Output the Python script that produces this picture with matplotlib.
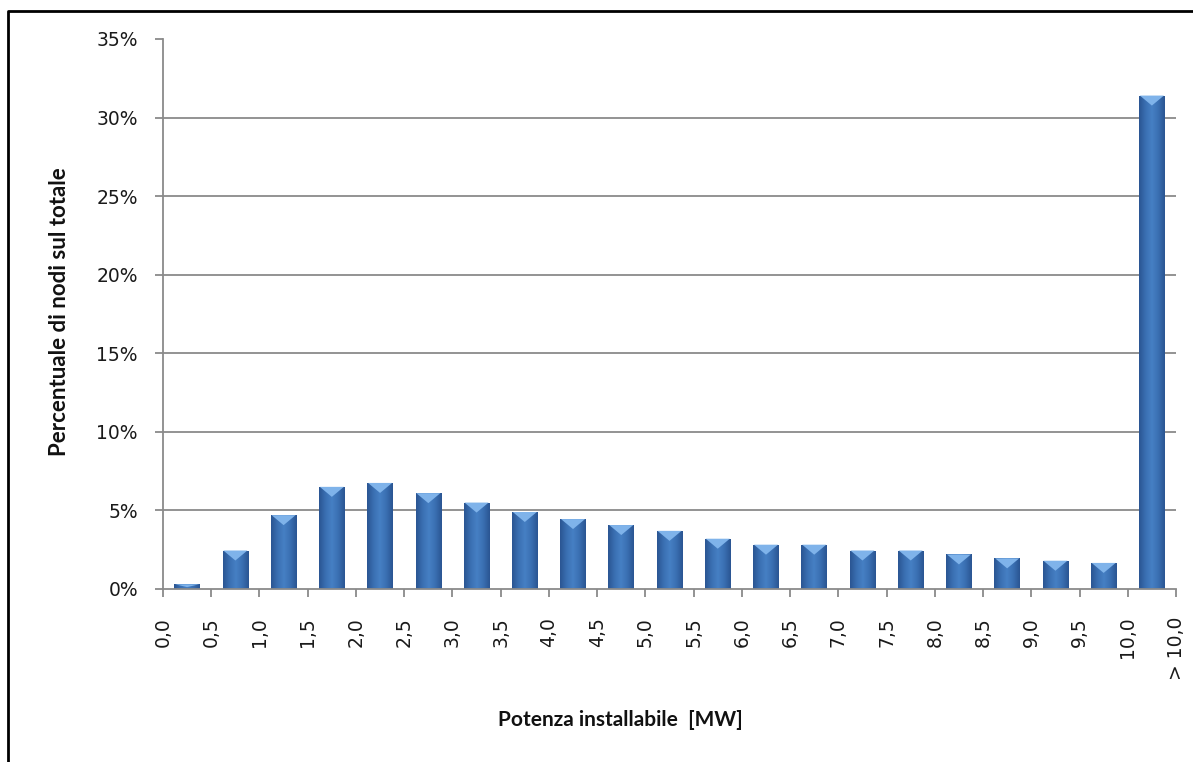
import matplotlib
matplotlib.use("Agg")
import matplotlib.pyplot as plt
import numpy as np
from matplotlib.colors import LinearSegmentedColormap
from matplotlib.lines import Line2D
from matplotlib.patches import Polygon
from matplotlib.ticker import FuncFormatter

# tick labels sit on the class boundaries, bars between them
tick_labels = ["0,0", "0,5", "1,0", "1,5", "2,0", "2,5", "3,0", "3,5", "4,0",
               "4,5", "5,0", "5,5", "6,0", "6,5", "7,0", "7,5", "8,0", "8,5",
               "9,0", "9,5", "10,0", "> 10,0"]
# percentage of nodes per class
share = [0.3, 2.45, 4.7, 6.5, 6.75, 6.1, 5.5, 4.9, 4.45, 4.07, 3.7, 3.2,
         2.82, 2.82, 2.45, 2.45, 2.2, 1.95, 1.8, 1.66, 31.4]
y_ticks = [0, 5, 10, 15, 20, 25, 30, 35]

W, H = 1193, 762
fig = plt.figure(figsize=(W / 100, H / 100), dpi=100)
ax = fig.add_axes([163 / W, 1 - 589 / H, (1176 - 163) / W, (589 - 39) / H])

x = np.arange(len(share)) + 0.5
bars = ax.bar(x, share, width=0.53, color="#3d72b5", edgecolor="none", zorder=2)

# horizontal shading of each bar + light bevel on top
cmap = LinearSegmentedColormap.from_list(
    "barshade", ["#2a5592", "#3a6fb2", "#4680c4", "#3a6fb2", "#2a5592"])
grad = np.linspace(0, 1, 64).reshape(1, -1)
px_per_unit = (589 - 39) / 35.0
for b in bars:
    x0, w, h = b.get_x(), b.get_width(), b.get_height()
    im = ax.imshow(grad, extent=[x0, x0 + w, 0, h], aspect="auto",
                   cmap=cmap, zorder=2.1, interpolation="bicubic")
    im.set_clip_path(b)
    d = min(10 / px_per_unit, h * 0.6)
    tri = Polygon([[x0 + 0.03 * w, h], [x0 + 0.97 * w, h],
                   [x0 + 0.5 * w, h - d]], closed=True,
                  facecolor="#7fb3ea", edgecolor="none", zorder=2.2)
    ax.add_patch(tri)

ax.set_xlim(0, len(share))
ax.set_ylim(0, 35)
ax.set_xticks(np.arange(len(tick_labels)))
ax.set_xticklabels(tick_labels, rotation=90, fontsize=13.5, color="#1a1a1a")
ax.set_yticks(y_ticks)
ax.yaxis.set_major_formatter(FuncFormatter(lambda v, p: f"{v:.0f}%"))
ax.tick_params(axis="y", labelsize=13.5, labelcolor="#1a1a1a", length=6,
               width=1.3, color="#8a8a8a", pad=12)
ax.tick_params(axis="x", length=6, width=1.3, color="#8a8a8a", pad=14)

ax.grid(axis="y", color="#8a8a8a", linewidth=1.3, zorder=0)
ax.set_axisbelow(True)
gl = ax.get_ygridlines()
gl[0].set_visible(False)
gl[-1].set_visible(False)

for s in ["top", "right"]:
    ax.spines[s].set_visible(False)
for s in ["left", "bottom"]:
    ax.spines[s].set_color("#8a8a8a")
    ax.spines[s].set_linewidth(1.3)

fig.text(60 / W, 1 - 312 / H, "Percentuale di nodi sul totale", rotation=90,
         ha="center", va="center", fontsize=16, fontweight="bold",
         family="Lato", color="#111111")
fig.text(620 / W, 1 - 720 / H, "Potenza installabile  [MW]",
         ha="center", va="center", fontsize=15, fontweight="bold",
         family="Lato", color="#111111")

# outer frame (left and top edges visible)
fig.add_artist(Line2D([8 / W, 8 / W, 1], [0, 1 - 11 / H, 1 - 11 / H],
                      color="black", linewidth=2, transform=fig.transFigure))

fig.savefig("out.png", dpi=100)
